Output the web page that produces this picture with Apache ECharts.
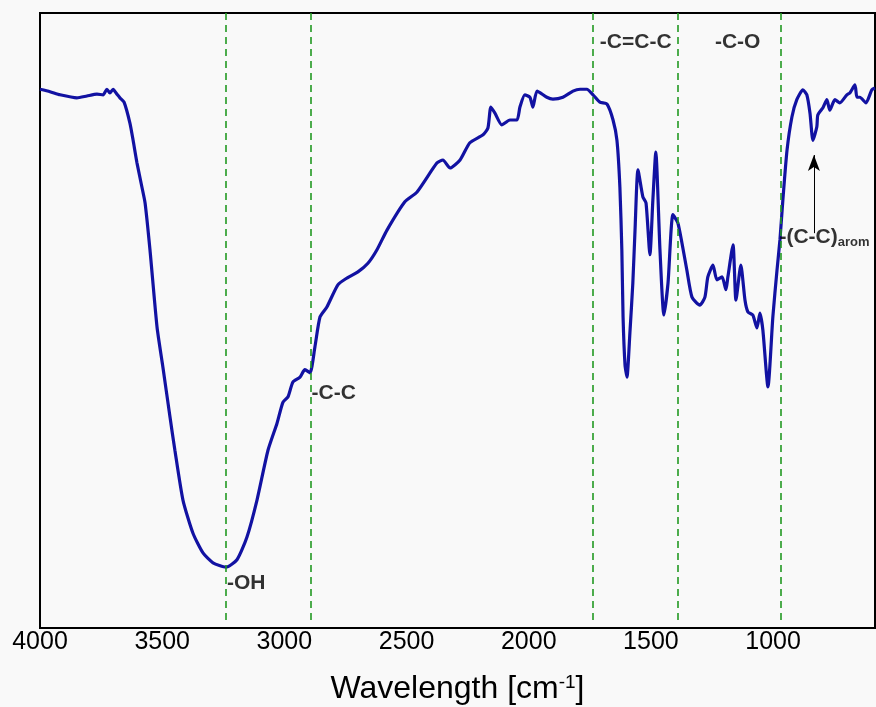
<!DOCTYPE html>
<html>
<head>
<meta charset="utf-8">
<script src="https://cdn.jsdelivr.net/npm/echarts@6/dist/echarts.min.js"></script>
<style>
  html, body { margin: 0; padding: 0; background: #f9f9f9; }
  #main { width: 876px; height: 707px; }
</style>
</head>
<body>
<div id="main"></div>
<script>
// FTIR spectrum, wavenumber in cm-1 and transmittance in %
var wavenumber = [4000, 3959, 3918, 3849, 3808, 3767, 3742, 3726, 3714, 3701, 3685, 3673, 3656, 3632, 3619, 3603,
  3583, 3570, 3550, 3521, 3497, 3468, 3448, 3415, 3374, 3333, 3292, 3239, 3194, 3153, 3112, 3067, 3030, 3006,
  2985, 2965, 2936, 2916, 2895, 2875, 2854, 2826, 2781, 2744, 2699, 2658, 2621, 2580, 2507, 2457, 2376, 2351,
  2322, 2281, 2241, 2187, 2167, 2155, 2138, 2110, 2077, 2048, 2036, 2016, 1995, 1983, 1966, 1926, 1901, 1860,
  1819, 1790, 1762, 1737, 1709, 1680, 1655, 1639, 1627, 1619, 1614, 1606, 1598, 1586, 1574, 1565, 1553, 1533,
  1520, 1504, 1492, 1480, 1463, 1447, 1430, 1410, 1390, 1373, 1353, 1332, 1300, 1279, 1267, 1246, 1230, 1209,
  1193, 1185, 1164, 1152, 1132, 1115, 1103, 1083, 1066, 1054, 1042, 1021, 1001, 984, 972, 960, 943, 923, 903,
  878, 862, 849, 837, 821, 817, 796, 780, 768, 747, 727, 698, 686, 665, 657, 645, 620, 596, 583];
var transmittance = [87.6, 87.2, 86.7, 86.2, 86.5, 86.8, 86.7, 87.6, 87.0, 87.6, 86.8, 86.2, 85.5, 82.1, 79.3, 75.6,
  71.7, 69.1, 61.5, 48.9, 42.4, 34.3, 28.9, 20.8, 15.4, 12.2, 10.6, 9.9, 11.1, 14.8, 20.8, 28.9, 33.3, 36.7,
  37.6, 40.0, 40.8, 42.0, 41.5, 45.7, 50.6, 52.2, 55.8, 56.9, 57.9, 59.3, 61.5, 64.7, 69.3, 70.9, 75.6, 76.1,
  74.8, 76.1, 78.9, 80.2, 81.3, 84.7, 83.7, 81.8, 82.6, 82.6, 84.7, 86.7, 86.3, 84.7, 87.3, 86.3, 86.0, 86.3,
  87.3, 87.6, 87.6, 86.7, 85.5, 85.2, 82.6, 79.3, 71.7, 61.5, 50.6, 42.8, 40.8, 48.0, 56.1, 64.7, 74.5, 70.1,
  69.1, 60.7, 69.6, 77.4, 61.5, 50.9, 56.1, 67.2, 65.9, 62.6, 58.2, 53.8, 52.5, 53.8, 57.1, 59.0, 56.6, 57.1,
  55.0, 57.1, 62.3, 53.3, 59.0, 53.3, 51.4, 50.9, 48.8, 51.2, 48.5, 39.2, 50.6, 58.2, 63.1, 69.6, 77.7, 83.1, 85.9,
  87.5, 86.7, 83.7, 79.3, 81.5, 83.4, 84.6, 85.9, 84.2, 85.9, 85.4, 86.7, 87.0, 88.3, 86.3, 86.3, 85.4, 87.5, 87.8];

var tickLabels = [4000, 3500, 3000, 2500, 2000, 1500, 1000];

// band markers (dashed lines)
var bandLines = [3239, 2892, 1736, 1390, 969];

// annotation texts and their anchor (left edge, vertical centre)
var annoText = ['{b|-OH}', '{b|-C-C}', '{b|-C=C-C}', '{b|-C-O}', '{b|-(C-C)}{s|arom}'];
var annoX = [3235, 2889, 1709, 1238, 974];
var annoY = [7.3, 38.2, 95.3, 95.3, 63.6];

// arrow pointing at the aromatic band
var arrowX = 833;
var arrowFrom = 64.2;
var arrowTo = 76.9;

var chart = echarts.init(document.getElementById('main'));

var lineData = wavenumber.map(function (w, i) { return [w, transmittance[i]]; });
var annoData = annoX.map(function (x, i) { return [x, annoY[i]]; });

var option = {
  backgroundColor: '#f9f9f9',
  animation: false,
  grid: {
    left: 40, right: 1, top: 13, bottom: 79,
    show: true, borderColor: '#000', borderWidth: 2,
    backgroundColor: 'transparent',
    outerBoundsMode: 'none'
  },
  xAxis: {
    type: 'value',
    inverse: true,
    min: 583,
    max: 4000,
    name: '{a|Wavelength [cm}{sup|-1}{a|]}',
    nameLocation: 'middle',
    nameGap: 45,
    nameTextStyle: {
      color: '#000',
      rich: {
        a: { fontFamily: 'Liberation Sans, Arial', fontSize: 32, color: '#000' },
        sup: { fontFamily: 'Liberation Sans, Arial', fontSize: 19, color: '#000', verticalAlign: 'top', padding: [0, 0, 14, 0] }
      }
    },
    axisLine: { show: true, lineStyle: { color: '#000', width: 2 } },
    axisTick: { show: false },
    splitLine: { show: false },
    axisLabel: {
      customValues: tickLabels,
      formatter: function (v) { return String(v); },
      fontFamily: 'Liberation Sans, Arial',
      fontSize: 25,
      color: '#000',
      margin: 2
    }
  },
  yAxis: {
    type: 'value',
    min: 0,
    max: 100,
    axisLine: { show: true, lineStyle: { color: '#000', width: 2 } },
    axisTick: { show: false },
    axisLabel: { show: false },
    splitLine: { show: false }
  },
  series: [
    {
      name: 'spectrum',
      type: 'line',
      data: lineData,
      showSymbol: false,
      smooth: 0.2,
      lineStyle: { color: '#1212a2', width: 3.2 },
      z: 3,
      markLine: {
        silent: true,
        symbol: 'none',
        label: { show: false },
        lineStyle: { color: '#229922', width: 1.6, type: [7, 5] },
        data: bandLines.map(function (w) {
          return [{ coord: [w, 1.3] }, { coord: [w, 100] }];
        })
      }
    },
    {
      name: 'labels',
      type: 'scatter',
      data: annoData,
      symbolSize: 0,
      z: 5,
      label: {
        show: true,
        position: 'right',
        distance: 0,
        color: '#000',
        fontWeight: 'bold',
        formatter: function (p) { return annoText[p.dataIndex]; },
        rich: {
          b: { fontFamily: 'Liberation Sans, Arial', fontWeight: 'bold', fontSize: 21, color: '#000' },
          s: { fontFamily: 'Liberation Sans, Arial', fontWeight: 'bold', fontSize: 13, color: '#000', verticalAlign: 'bottom', padding: [12, 0, 0, 0] }
        }
      },
      markLine: {
        silent: true,
        symbol: ['none', 'arrow'],
        symbolSize: [9, 16],
        label: { show: false },
        lineStyle: { color: '#000', width: 1, type: 'solid' },
        data: [[{ coord: [arrowX, arrowFrom] }, { coord: [arrowX, arrowTo] }]]
      }
    }
  ]
};

chart.setOption(option);
</script>
</body>
</html>
